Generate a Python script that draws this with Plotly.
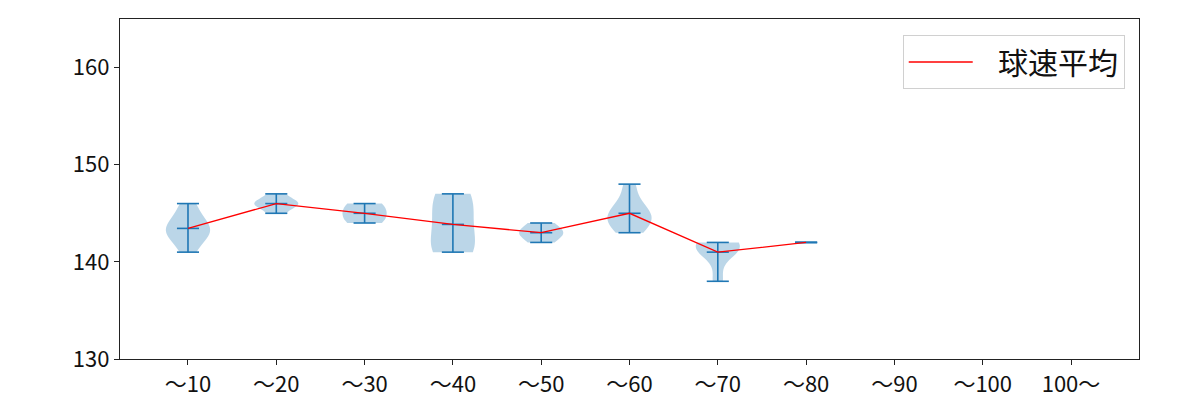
import numpy as np
import plotly.graph_objects as go

categories = ["～10", "～20", "～30", "～40", "～50", "～60", "～70", "～80", "～90", "～100", "100～"]
positions = list(range(1, 12))

speeds_10 = [141, 142, 143, 143, 143, 144, 144, 145, 146]
speeds_20 = [145, 146, 146, 146, 147]
speeds_30 = [144, 145, 146]
speeds_40 = [141, 141, 142, 144, 145, 147, 147]
speeds_50 = [142, 143, 143, 144]
speeds_60 = [143, 144, 144, 145, 145, 146, 148]
speeds_70 = [138, 141, 141, 142, 142, 142]
speeds_80 = [142]
speeds_90 = []
speeds_100 = []
speeds_100p = []

groups = [speeds_10, speeds_20, speeds_30, speeds_40, speeds_50, speeds_60,
          speeds_70, speeds_80, speeds_90, speeds_100, speeds_100p]

BLUE = "#1f77b4"
FONT = "Noto Sans CJK JP"

fig = go.Figure()

# violin bodies
for pos, data in zip(positions, groups):
    if len(data) < 2:
        continue
    arr = np.array(data, dtype=float)
    bw = arr.std(ddof=1) * len(arr) ** (-1 / 5)
    fig.add_trace(go.Violin(
        x0=pos, y=arr, width=0.5, scalemode="width", spanmode="hard",
        bandwidth=bw, points=False, box_visible=False, meanline_visible=False,
        fillcolor="rgba(31,119,180,0.3)", line=dict(width=0, color="rgba(31,119,180,0)"),
        hoverinfo="skip", showlegend=False, orientation="v",
    ))

# min / max / mean bars
xs, ys = [], []
for pos, data in zip(positions, groups):
    if len(data) == 0:
        continue
    lo, hi, mu = min(data), max(data), float(np.mean(data))
    for v in (lo, hi, mu):
        xs += [pos - 0.125, pos + 0.125, None]
        ys += [v, v, None]
    xs += [pos, pos, None]
    ys += [lo, hi, None]
fig.add_trace(go.Scatter(x=xs, y=ys, mode="lines", line=dict(color=BLUE, width=1.6),
                         showlegend=False, hoverinfo="skip"))

# mean line
mean_x = [p for p, d in zip(positions, groups) if len(d) > 0]
mean_y = [float(np.mean(d)) for d in groups if len(d) > 0]
fig.add_trace(go.Scatter(x=mean_x, y=mean_y, mode="lines", name="\u00a0\u00a0\u00a0球速平均",
                         line=dict(color="red", width=1.3)))

axis_common = dict(showline=True, mirror=True, linecolor="#222", linewidth=1.3,
                   ticks="outside", ticklen=5, tickcolor="#222", showgrid=False,
                   zeroline=False, automargin=False,
                   tickfont=dict(family=FONT, size=22, color="#111"))

fig.update_layout(
    width=1200, height=400,
    margin=dict(l=120, r=61, t=19, b=41),
    plot_bgcolor="white", paper_bgcolor="white",
    font=dict(family=FONT),
    xaxis=dict(range=[0.23, 11.77], tickmode="array", tickvals=positions,
               ticktext=categories, **axis_common),
    yaxis=dict(range=[130, 165], tickmode="array", tickvals=[130, 140, 150, 160],
               **axis_common),
    legend=dict(x=0.986, y=0.953, xanchor="right", yanchor="top",
                bordercolor="#d0d0d0", borderwidth=1, bgcolor="white",
                itemwidth=64,
                font=dict(family=FONT, size=30, color="#111")),
    violingap=0, violinmode="overlay",
)

fig.write_html("out.html")
